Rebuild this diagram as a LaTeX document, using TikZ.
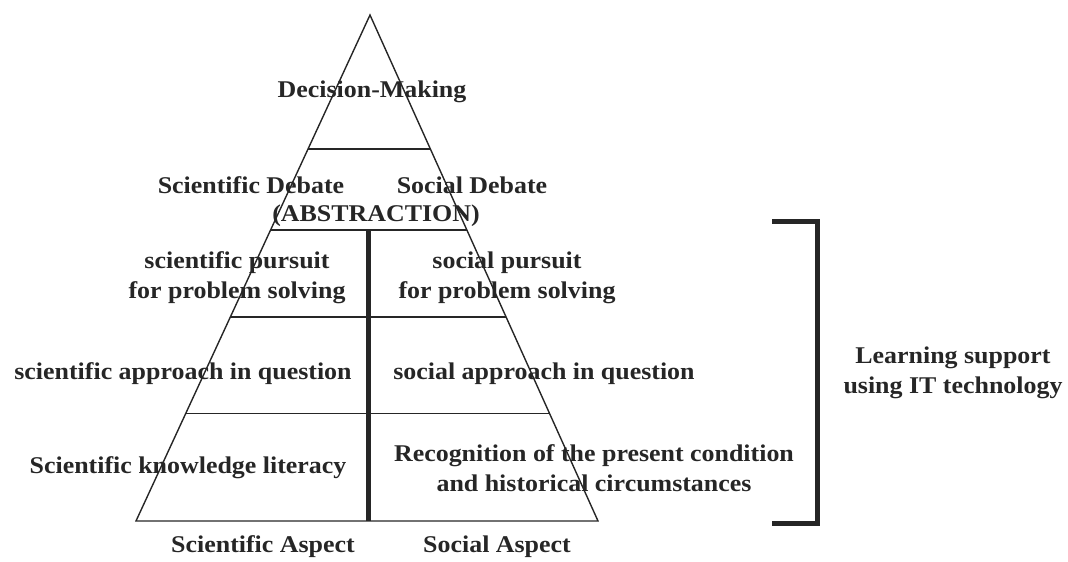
\documentclass[tikz,border=0pt]{standalone}
\usepackage{fontspec}
\setmainfont{Liberation Serif}[FakeStretch=1.08]
\usetikzlibrary{calc}
\definecolor{PyrInk}{HTML}{262626}
\tikzset{
  layer/.style={font=\bfseries\fontsize{24}{30}\selectfont,align=center,text=PyrInk,inner sep=0pt},
  edge/.style={draw=PyrInk,line width=1.4pt},
  divider/.style={draw=PyrInk,line width=5pt},
  bracket/.style={draw=PyrInk,line width=5pt,miter limit=4}
}
\begin{document}
\begin{tikzpicture}[x=1pt,y=-1pt]
  \useasboundingbox (0,0) rectangle (1068,562);
  \coordinate (apex) at (370,15);
  \coordinate (baseL) at (136,521);
  \coordinate (baseR) at (598,521);
  \foreach \lv/\t in {1/0.265,2/0.425,3/0.597,4/0.787}{
    \coordinate (tierL\lv) at ($(apex)!\t!(baseL)$);
    \coordinate (tierR\lv) at ($(apex)!\t!(baseR)$);
  }
  \draw[edge] (apex) -- (baseL) -- (baseR) -- cycle;
  \foreach \lv in {1,2,3,4} \draw[edge] (tierL\lv) -- (tierR\lv);
  \coordinate (mtop) at (368,230);
  \coordinate (mbot) at (368,521);
  \draw[divider] (mtop) -- (mbot);
  \coordinate (brtl) at (772,221);
  \coordinate (brtr) at (817,221);
  \coordinate (brbr) at (817,523);
  \coordinate (brbl) at (772,523);
  \draw[bracket] (brtl) -- (brtr) -- (brbr) -- (brbl);
  \node[layer] (dm) at (372,92) {Decision-Making};
  \node[layer] (scideb) at (251,185) {Scientific Debate};
  \node[layer] (socdeb) at (472,185) {Social Debate};
  \node[layer] (abs) at (376,216) {(ABSTRACTION)};
  \node[layer] (scipur) at (237,278) {scientific pursuit\\for problem solving};
  \node[layer] (socpur) at (507,278) {social pursuit\\for problem solving};
  \node[layer] (sciapp) at (183,374) {scientific approach in question};
  \node[layer] (socapp) at (544,374) {social approach in question};
  \node[layer] (scilit) at (188,468) {Scientific knowledge literacy};
  \node[layer] (socrec) at (594,468) {Recognition of the present condition\\and historical circumstances};
  \node[layer] (sciasp) at (263,547) {Scientific Aspect};
  \node[layer] (socasp) at (497,547) {Social Aspect};
  \node[layer] (itsup) at (953,373) {Learning support\\using IT technology};
\end{tikzpicture}
\end{document}
